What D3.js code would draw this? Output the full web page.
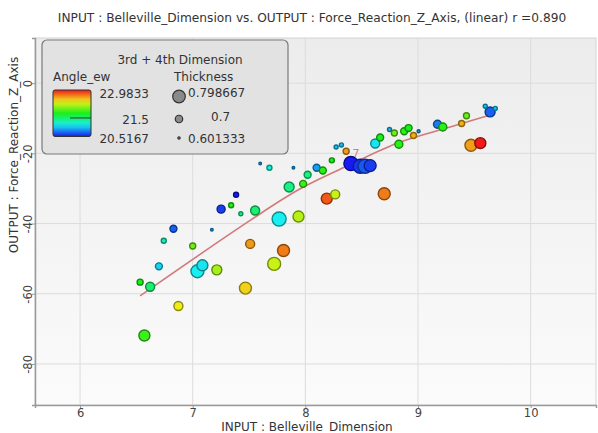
<!DOCTYPE html>
<html><head><meta charset="utf-8">
<script src="https://cdn.jsdelivr.net/npm/d3@7"></script>
<style>
body{margin:0;background:#fff}
svg{display:block}
text{font-family:"DejaVu Sans",Verdana,sans-serif}
</style>
</head><body>
<svg id="chart" width="598" height="433"></svg>
<script>
// Design points: input dimension, output force, colour variable, size variable
const beDim = [7.856,7.98,7.385,7.252,7.341,7.427,7.554,7.767,7.939,6.829,7.17,6.743,7.0,7.51,7.806,7.086,7.042,7.214,7.723,6.70,6.533,6.622,7.468,6.873,6.571,7.599,7.681,7.894,8.10,8.02,8.155,8.235,8.273,8.32,8.362,8.404,8.487,8.53,8.575,8.62,8.664,8.83,8.747,8.79,8.877,8.916,8.96,9.005,9.173,9.22,9.387,9.43,9.47,9.553,9.64,9.597,9.686,8.19,8.265,8.70];
const forceZ = [-29.6,-28.7,-31.8,-35.9,-34.8,-37.2,-36.3,-38.7,-38.0,-41.5,-41.8,-44.9,-46.4,-45.8,-47.7,-51.9,-53.6,-53.2,-51.5,-52.2,-56.7,-58.0,-58.4,-63.5,-71.9,-22.9,-24.1,-24.1,-24.1,-26.1,-24.9,-22.0,-18.2,-17.6,-19.4,-22.9,-23.7,-23.7,-23.5,-17.2,-15.5,-17.4,-13.2,-14.2,-13.7,-12.8,-14.9,-13.7,-11.7,-12.5,-11.5,-9.3,-17.7,-17.1,-8.2,-6.6,-7.2,-32.9,-31.7,-31.5];
const angleEw = [21.44,21.85,20.52,20.62,21.8,21.4,21.5,21.13,22.2,20.72,20.9,21.3,22.0,22.62,22.7,21.1,21.13,22.15,22.25,21.05,21.75,21.5,22.45,22.38,21.85,20.9,21.2,20.9,20.9,21.45,21.8,21.75,21.0,21.0,22.6,20.52,20.6,20.7,20.62,21.1,21.75,21.8,21.0,22.0,21.8,21.75,22.55,20.9,20.8,21.8,22.55,22.0,22.6,22.98,20.72,21.0,21.0,22.8,22.25,22.7];
const thickness = [0.729,0.677,0.643,0.695,0.643,0.626,0.712,0.799,0.747,0.677,0.601,0.643,0.66,0.712,0.764,0.747,0.781,0.729,0.781,0.677,0.66,0.712,0.764,0.712,0.747,0.601,0.643,0.601,0.677,0.677,0.677,0.643,0.626,0.626,0.66,0.799,0.799,0.799,0.764,0.712,0.677,0.695,0.626,0.66,0.677,0.677,0.66,0.608,0.695,0.695,0.66,0.66,0.764,0.747,0.729,0.626,0.626,0.747,0.712,0.764];

// Fitted trend curve, sampled
const trendX = [6.533,7.51,7.954,8.398,8.842,9.286,9.641];
const trendY = [-60.6,-39.1,-30.1,-23.2,-16.8,-12.5,-9.1];

const xTicks = [6,7,8,9,10];
const yTicks = [0,-20,-40,-60,-80];
const angleLegend = [22.9833,21.5,20.5167];
const angleLegendText = ["22.9833","21.5","20.5167"];
const thickLegend = [0.798667,0.7,0.601333];
const thickLegendText = ["0.798667","0.7","0.601333"];

const svg = d3.select("#chart");
const L = 35, T = 38, R = 596, B = 405;

const x = d3.scaleLinear().domain([5.6,10.58]).range([L,R]);
const y = d3.scaleLinear().domain([-91.7,12.86]).range([B,T]);
const hue = d3.scaleLinear().domain([20.5167,22.9833]).range([240,0]).clamp(true);
const colour = v => d3.hsl(hue(v),0.88,0.52).formatHex();
const rad = d3.scaleLinear().domain([0.601333,0.798667]).range([1.3,7]).clamp(true);
const FONT = "DejaVu Sans, Verdana, sans-serif";

const defs = svg.append("defs");
const bg = defs.append("linearGradient").attr("id","bg").attr("x1",0).attr("y1",0).attr("x2",0).attr("y2",1);
bg.append("stop").attr("offset","0%").attr("stop-color","#ececec");
bg.append("stop").attr("offset","100%").attr("stop-color","#fbfbfb");
const cb = defs.append("linearGradient").attr("id","cbar").attr("x1",0).attr("y1",1).attr("x2",0).attr("y2",0);
d3.range(0,1.0001,0.1).forEach(t=>{
  cb.append("stop").attr("offset",(t*100)+"%").attr("stop-color",colour(20.5167+t*(22.9833-20.5167)));
});

// plot area
svg.append("rect").attr("x",L).attr("y",T).attr("width",R-L).attr("height",B-T)
  .attr("fill","url(#bg)").attr("stroke","#d4d4d4");

// grid
svg.append("g").selectAll("line").data(xTicks).join("line")
  .attr("x1",d=>x(d)).attr("x2",d=>x(d)).attr("y1",T).attr("y2",B)
  .attr("stroke","#dcdcdc");
svg.append("g").selectAll("line").data(yTicks).join("line")
  .attr("x1",L).attr("x2",R).attr("y1",d=>y(d)).attr("y2",d=>y(d))
  .attr("stroke","#dcdcdc");

// axes
const xAxis = svg.append("g").attr("transform",`translate(0,${B})`)
  .call(d3.axisBottom(x).tickValues(xTicks).tickSize(3).tickPadding(1).tickFormat(d=>String(d)));
xAxis.select(".domain").attr("stroke","#9a9a9a").attr("stroke-width",1.5);
xAxis.selectAll(".tick line").attr("stroke","#9a9a9a");
xAxis.selectAll("text").attr("fill","#444").attr("font-size",11.5).attr("font-family",FONT);

const yAxis = svg.append("g").attr("transform",`translate(${L},0)`)
  .call(d3.axisLeft(y).tickValues(yTicks).tickSize(3).tickFormat(d=>String(d)));
yAxis.select(".domain").attr("stroke","#9a9a9a").attr("stroke-width",1.5);
yAxis.selectAll(".tick line").attr("stroke","#9a9a9a");
yAxis.selectAll("text").attr("fill","#444").attr("font-size",11.5)
  .attr("font-family",FONT)
  .attr("x",null).attr("dy",null)
  .attr("text-anchor","middle")
  .attr("transform","translate(-3,0) rotate(-90)");

// titles
svg.append("text").attr("x",312).attr("y",22).attr("text-anchor","middle")
  .attr("font-size",12.2).attr("fill","#333")
  .text("INPUT : Belleville_Dimension vs. OUTPUT : Force_Reaction_Z_Axis, (linear) r =0.890");
svg.append("text").attr("x",307).attr("y",431).attr("text-anchor","middle")
  .attr("font-size",12).attr("fill","#333").text("INPUT : Belleville_Dimension");
svg.append("text").attr("transform","translate(18,155) rotate(-90)").attr("text-anchor","middle")
  .attr("font-size",12).attr("fill","#333").text("OUTPUT : Force_Reaction_Z_Axis");

// trend curve
const trend = trendX.map((d,i)=>[d,trendY[i]]);
svg.append("path").datum(trend)
  .attr("d",d3.line().x(d=>x(d[0])).y(d=>y(d[1])).curve(d3.curveCatmullRom))
  .attr("fill","none").attr("stroke","#d27a7a").attr("stroke-width",1.6);

// points, largest drawn first
const pts = beDim.map((d,i)=>({x:d,y:forceZ[i],a:angleEw[i],t:thickness[i]}))
  .sort((p,q)=>q.t-p.t);
svg.append("g").selectAll("circle").data(pts).join("circle")
  .attr("cx",d=>x(d.x)).attr("cy",d=>y(d.y)).attr("r",d=>rad(d.t))
  .attr("fill",d=>colour(d.a))
  .attr("stroke",d=>d3.hsl(colour(d.a)).darker(1.6).formatHex())
  .attr("stroke-width",1.4);

svg.append("text").attr("x",356).attr("y",157).attr("text-anchor","middle")
  .attr("font-size",11).attr("fill","#e07a7a").text("7");

// legend
const lg = svg.append("g");
lg.append("rect").attr("x",42).attr("y",40).attr("width",246).attr("height",114)
  .attr("rx",5).attr("fill","#e2e2e2").attr("stroke","#7a7a7a").attr("stroke-width",1.2);
lg.append("text").attr("x",180).attr("y",64).attr("text-anchor","middle")
  .attr("font-size",12).attr("fill","#333").text("3rd + 4th Dimension");
lg.append("text").attr("x",53).attr("y",81).attr("font-size",12).attr("fill","#333").text("Angle_ew");
lg.append("text").attr("x",174).attr("y",81).attr("font-size",12).attr("fill","#333").text("Thickness");

const cbY = d3.scaleLinear().domain([20.5167,22.9833]).range([136.5,90]);
lg.append("rect").attr("x",53).attr("y",90).attr("width",38).attr("height",46.5)
  .attr("rx",2).attr("fill","url(#cbar)").attr("stroke","#333").attr("stroke-width",1);
lg.append("line").attr("x1",70).attr("x2",91).attr("y1",cbY(21.5)).attr("y2",cbY(21.5))
  .attr("stroke","#333").attr("stroke-width",1);
const labY = [98,124,143];
lg.selectAll(".al").data(angleLegendText).join("text").attr("class","al")
  .attr("x",149).attr("y",(d,i)=>labY[i]).attr("text-anchor","end")
  .attr("font-size",12).attr("fill","#333").text(d=>d);

const circY = [96.5,119,138];
lg.selectAll(".tc").data(thickLegend).join("circle").attr("class","tc")
  .attr("cx",179).attr("cy",(d,i)=>circY[i]).attr("r",d=>rad(d)*0.9)
  .attr("fill","#8a8a8a").attr("stroke","#333").attr("stroke-width",1.2);
const tlX = [188,211,188];
const tlY = [97,121,143];
lg.selectAll(".tl").data(thickLegendText).join("text").attr("class","tl")
  .attr("x",(d,i)=>tlX[i]).attr("y",(d,i)=>tlY[i])
  .attr("font-size",12).attr("fill","#333").text(d=>d);
</script>
</body></html>
